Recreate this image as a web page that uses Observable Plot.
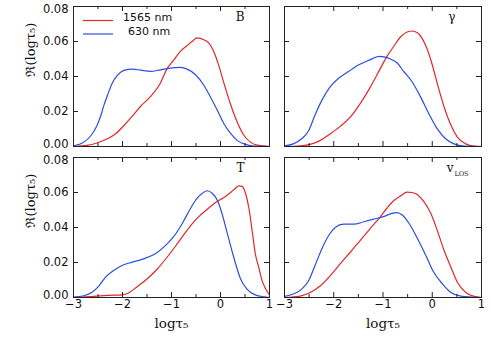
<!DOCTYPE html>
<html><head><meta charset="utf-8">
<script src="https://cdn.jsdelivr.net/npm/d3@7"></script>
<script src="https://cdn.jsdelivr.net/npm/@observablehq/plot@0.6"></script>
<style>
body{margin:0;background:#fff;}
#chart{position:relative;width:491px;height:350px;background:#fff;overflow:hidden;}
#chart svg{position:absolute;left:0;top:0;}
</style></head><body><div id="chart"></div>
<script>
// ---- data ----
const xTicks = [-3, -2, -1, 0, 1];
const xMinor = [-2.5, -1.5, -0.5, 0.5];
const yTicks = [0, 0.02, 0.04, 0.06, 0.08];
const seriesNames = ["1565 nm", "630 nm"];
const seriesColors = ["#e3262b", "#2a4fe0"];
const xLabel = "logτ₅";
const yLabel = "ℜ(logτ₅)";

const B_1565 = [[-3,0],[-2.72,0.0006],[-2.52,0.002],[-2.31,0.0044],[-2.14,0.0073],[-1.97,0.012],[-1.80,0.0173],[-1.63,0.023],[-1.43,0.0285],[-1.23,0.036],[-1.09,0.0445],[-0.96,0.0492],[-0.82,0.0544],[-0.68,0.0577],[-0.58,0.060],[-0.48,0.0621],[-0.34,0.061],[-0.24,0.0592],[-0.14,0.0544],[-0.03,0.0458],[0.07,0.0362],[0.21,0.0237],[0.34,0.014],[0.48,0.0063],[0.61,0.0025],[0.78,0.0006],[1,0]];
const B_630 = [[-3,0.0004],[-2.79,0.0025],[-2.65,0.006],[-2.52,0.012],[-2.45,0.017],[-2.38,0.0235],[-2.31,0.029],[-2.21,0.0362],[-2.11,0.0405],[-1.97,0.0435],[-1.80,0.0442],[-1.63,0.0436],[-1.43,0.0429],[-1.23,0.0438],[-1.03,0.0448],[-0.82,0.0452],[-0.68,0.0442],[-0.51,0.041],[-0.34,0.035],[-0.20,0.028],[-0.07,0.021],[0.07,0.013],[0.21,0.0073],[0.34,0.0035],[0.51,0.0012],[0.68,0.0002],[1,0]];

const G_1565 = [[-3,0],[-2.68,0.0004],[-2.48,0.0012],[-2.27,0.0035],[-2.07,0.0073],[-1.87,0.0115],[-1.66,0.0169],[-1.46,0.0246],[-1.26,0.0338],[-1.05,0.0448],[-0.92,0.0515],[-0.78,0.0573],[-0.64,0.0627],[-0.51,0.0654],[-0.41,0.066],[-0.30,0.065],[-0.20,0.0615],[-0.10,0.0554],[0,0.0467],[0.10,0.0362],[0.24,0.0227],[0.38,0.0121],[0.51,0.0054],[0.68,0.0015],[0.85,0.0002],[1,0]];
const G_630 = [[-3,0.0004],[-2.82,0.0015],[-2.65,0.0044],[-2.51,0.009],[-2.38,0.018],[-2.24,0.0265],[-2.07,0.0342],[-1.90,0.039],[-1.70,0.0429],[-1.49,0.0467],[-1.29,0.0492],[-1.08,0.0515],[-0.98,0.0512],[-0.85,0.050],[-0.71,0.0477],[-0.58,0.0429],[-0.41,0.037],[-0.24,0.0285],[-0.07,0.0188],[0.10,0.0102],[0.27,0.0044],[0.44,0.0015],[0.65,0.0002],[1,0]];

const T_1565 = [[-3,0],[-2.58,0.0006],[-2.31,0.0012],[-2.01,0.0015],[-1.87,0.0027],[-1.70,0.0062],[-1.50,0.0106],[-1.29,0.0163],[-1.09,0.023],[-0.88,0.0308],[-0.68,0.0385],[-0.48,0.0452],[-0.27,0.0504],[-0.07,0.0548],[0.10,0.0577],[0.27,0.0615],[0.37,0.0638],[0.44,0.0635],[0.51,0.0596],[0.58,0.051],[0.65,0.0373],[0.71,0.025],[0.78,0.0173],[0.85,0.0095],[0.92,0.005],[1,0.0015]];
const T_630 = [[-3,0.0002],[-2.79,0.001],[-2.62,0.003],[-2.48,0.0067],[-2.35,0.0115],[-2.18,0.0154],[-2.01,0.0183],[-1.80,0.0202],[-1.57,0.0221],[-1.33,0.025],[-1.12,0.0298],[-0.96,0.0346],[-0.78,0.0423],[-0.61,0.051],[-0.48,0.0567],[-0.37,0.0596],[-0.27,0.061],[-0.17,0.0596],[-0.07,0.0558],[0.03,0.048],[0.14,0.0365],[0.27,0.023],[0.41,0.0106],[0.54,0.0048],[0.71,0.0015],[0.89,0.0004],[1,0]];

const V_1565 = [[-3,0],[-2.68,0.0008],[-2.48,0.0029],[-2.27,0.0067],[-2.07,0.0125],[-1.87,0.0192],[-1.66,0.026],[-1.46,0.0327],[-1.26,0.0394],[-1.05,0.0462],[-0.92,0.051],[-0.78,0.0554],[-0.64,0.0581],[-0.51,0.0602],[-0.41,0.060],[-0.30,0.0587],[-0.17,0.0548],[-0.03,0.0481],[0.10,0.0385],[0.24,0.0269],[0.38,0.0173],[0.51,0.0087],[0.68,0.0029],[0.85,0.0006],[1,0]];
const V_630 = [[-3,0.0006],[-2.82,0.002],[-2.65,0.0048],[-2.51,0.0096],[-2.38,0.0183],[-2.24,0.0279],[-2.10,0.0356],[-1.97,0.040],[-1.80,0.0419],[-1.59,0.0419],[-1.39,0.0433],[-1.19,0.0448],[-0.99,0.0462],[-0.82,0.0481],[-0.71,0.0485],[-0.61,0.0471],[-0.47,0.0423],[-0.30,0.0337],[-0.13,0.024],[0.03,0.0144],[0.21,0.0077],[0.38,0.0029],[0.58,0.0008],[1,0]];

const panelLabels = ["B", "γ", "T", "v"];
const panelSub = ["", "", "", "LOS"];

// ---- drawing ----
const chart = document.getElementById("chart");
const W = 491, H = 350;
const serif = "'DejaVu Serif', 'Liberation Serif', serif";
const sans = "'DejaVu Sans', sans-serif";
const fmtX = d => d < 0 ? "\u2212" + (-d) : String(d);
const fmtY = d3.format(".2f");
const ink = "#222";

const layout = [
  {mL: 73,  mR: W - 269, mT: 6,   mB: H - 146, showX: false, showY: true},
  {mL: 284, mR: W - 481, mT: 6,   mB: H - 146, showX: false, showY: false},
  {mL: 73,  mR: W - 269, mT: 157, mB: H - 297, showX: true,  showY: true},
  {mL: 284, mR: W - 481, mT: 157, mB: H - 297, showX: true,  showY: false}
];
const panelData = [[B_1565, B_630], [G_1565, G_630], [T_1565, T_630], [V_1565, V_630]];

panelData.forEach(([red, blue], i) => {
  const L = layout[i];
  const pw = W - L.mL - L.mR, ph = H - L.mT - L.mB;
  const data = [
    ...red.map(([x, y]) => ({x, y, s: seriesNames[0]})),
    ...blue.map(([x, y]) => ({x, y, s: seriesNames[1]}))
  ];
  const marks = [
    Plot.line(data, {x: "x", y: "y", z: "s", stroke: "s", strokeWidth: 1.2, curve: "monotone-x"}),
    // inward ticks on all four sides
    Plot.tickX(xTicks, {x: d => d, insetTop: ph - 5, stroke: ink}),
    Plot.tickX(xTicks, {x: d => d, insetBottom: ph - 5, stroke: ink}),
    Plot.tickX(xMinor, {x: d => d, insetTop: ph - 3, stroke: ink}),
    Plot.tickX(xMinor, {x: d => d, insetBottom: ph - 3, stroke: ink}),
    Plot.tickY(yTicks, {y: d => d, insetRight: pw - 5, stroke: ink}),
    Plot.tickY(yTicks, {y: d => d, insetLeft: pw - 5, stroke: ink}),
    Plot.frame({stroke: ink, strokeWidth: 1}),
    Plot.text([panelLabels[i]], {frameAnchor: "top-right", dx: i === 3 ? -28 : (i % 2 ? -26 : -25), dy: 11, fontSize: 12, fontFamily: serif, fill: "#111", lineAnchor: "middle"})
  ];
  if (panelSub[i]) {
    marks.push(Plot.text([panelSub[i]], {frameAnchor: "top-right", dx: -13, dy: 16, fontSize: 6.5, fontFamily: serif, fill: "#111", lineAnchor: "middle"}));
  }
  if (L.showX) {
    marks.push(Plot.axisX(xTicks, {anchor: "bottom", tickSize: 0, tickPadding: 2, tickFormat: fmtX, label: null, fontSize: 11.5, fontFamily: sans, fill: "#111"}));
    marks.push(Plot.text([xLabel], {frameAnchor: "bottom", dy: 30, fontSize: 13.5, fontFamily: serif, fill: "#111"}));
  }
  if (L.showY) {
    marks.push(Plot.axisY(yTicks.slice(1, 4), {anchor: "left", tickSize: 0, tickPadding: 5, tickFormat: fmtY, label: null, fontSize: 11.5, fontFamily: sans, fill: "#111"}));
    marks.push(Plot.axisY(yTicks.slice(0, 1), {anchor: "left", tickSize: 0, tickPadding: 5, tickFormat: fmtY, label: null, fontSize: 11.5, fontFamily: sans, fill: "#111", dy: -2}));
    marks.push(Plot.axisY(yTicks.slice(4), {anchor: "left", tickSize: 0, tickPadding: 5, tickFormat: fmtY, label: null, fontSize: 11.5, fontFamily: sans, fill: "#111", dy: 3}));
    marks.push(Plot.text([yLabel], {frameAnchor: "left", dx: -43, rotate: -90, fontSize: 13, fontFamily: serif, fill: "#111"}));
  }
  const svg = Plot.plot({
    width: W, height: H,
    marginLeft: L.mL, marginRight: L.mR, marginTop: L.mT, marginBottom: L.mB,
    x: {domain: [-3, 1], axis: null},
    y: {domain: [0, 0.08], axis: null},
    color: {domain: seriesNames, range: seriesColors},
    style: {background: "transparent", overflow: "visible"},
    marks
  });
  chart.appendChild(svg);
});

// legend (top-left panel)
const leg = d3.select(chart).append("svg").attr("width", W).attr("height", H)
  .style("position", "absolute").style("left", 0).style("top", 0);
const legRows = [{y: 20.5, ty: 17.5, tx: 123}, {y: 34, ty: 31.5, tx: 128}];
seriesNames.forEach((name, k) => {
  const r = legRows[k];
  leg.append("line").attr("x1", 83).attr("x2", 113).attr("y1", r.y).attr("y2", r.y)
    .attr("stroke", seriesColors[k]).attr("stroke-width", 1.2);
  leg.append("text").attr("x", r.tx).attr("y", r.ty).attr("dy", "0.35em")
    .attr("font-family", sans).attr("font-size", 11).attr("fill", "#111").text(name);
});
</script></body></html>
